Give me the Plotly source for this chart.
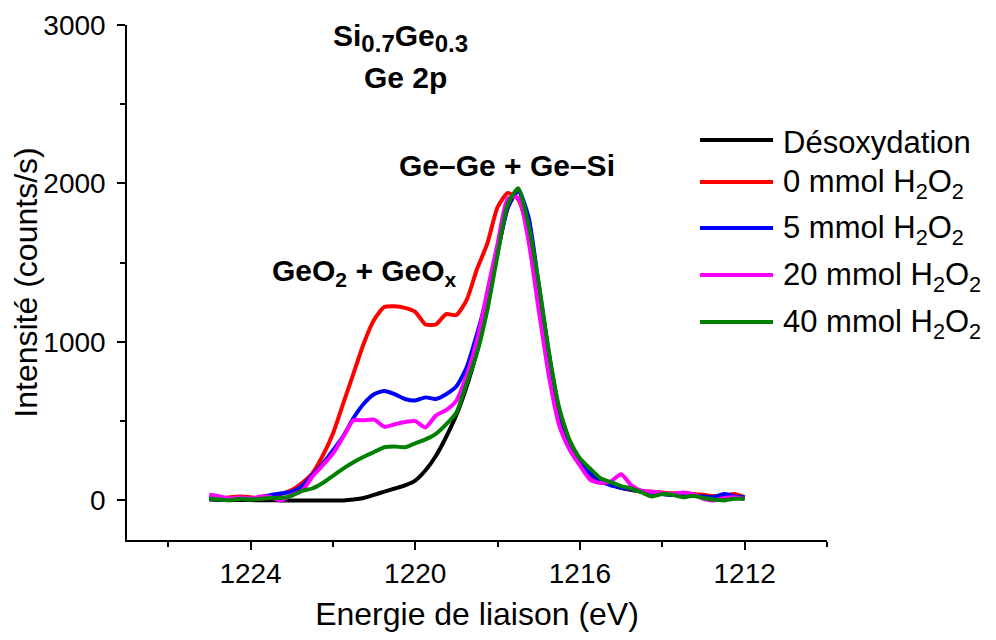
import plotly.graph_objects as go

# ---------------- data ----------------
energy = [1225.00, 1224.75, 1224.50, 1224.25, 1224.00, 1223.75, 1223.50, 1223.25,
          1223.00, 1222.75, 1222.50, 1222.25, 1222.00, 1221.75, 1221.50, 1221.25,
          1221.00, 1220.75, 1220.50, 1220.25, 1220.00, 1219.75, 1219.50, 1219.25,
          1219.00, 1218.75, 1218.50, 1218.25, 1218.00, 1217.75, 1217.50, 1217.25,
          1217.00, 1216.75, 1216.50, 1216.25, 1216.00, 1215.75, 1215.50, 1215.25,
          1215.00, 1214.75, 1214.50, 1214.25, 1214.00, 1213.75, 1213.50, 1213.25,
          1213.00, 1212.75, 1212.50, 1212.25, 1212.00]

desoxydation = [5, 3, 2, 2, 2, 1, 1, 0,
                0, 0, 0, 0, 0, 0, 5, 15,
                35, 55, 75, 95, 125, 190, 280, 400,
                540, 720, 940, 1220, 1570, 1850, 1955, 1720,
                1300, 850, 510, 340, 235, 160, 120, 100,
                80, 65, 55, 45, 40, 35, 35, 30,
                30, 25, 25, 20, 20]

h2o2_0 = [25, 10, 20, 25, 20, 10, 25, 40,
          65, 110, 170, 280, 420, 610, 800, 990,
          1140, 1220, 1225, 1215, 1190, 1110, 1110, 1175,
          1170, 1265, 1460, 1620, 1850, 1940, 1900, 1680,
          1250, 820, 500, 330, 230, 155, 115, 100,
          80, 70, 60, 55, 50, 45, 45, 40,
          35, 25, 30, 40, 20]

h2o2_5 = [10, 5, 10, 15, 10, 20, 35, 45,
          55, 90, 160, 230, 315, 405, 520, 610,
          670, 690, 670, 640, 630, 650, 640, 670,
          720, 840, 1050, 1290, 1570, 1850, 1960, 1790,
          1360, 920, 560, 360, 250, 170, 125, 95,
          80, 70, 60, 45, 40, 35, 30, 30,
          25, 20, 40, 25, 20]

h2o2_20 = [35, 25, 10, 20, 10, 25, 20, 0,
           35, 60, 150, 220, 295, 400, 505, 505,
           510, 465, 480, 495, 500, 460, 535, 570,
           630, 790, 1010, 1320, 1620, 1905, 1910, 1640,
           1200, 780, 470, 320, 220, 130, 110, 120,
           165, 95, 60, 55, 45, 40, 50, 40,
           10, 0, 15, 20, 10]

h2o2_40 = [10, 5, 0, 10, 5, 10, 15, 15,
           30, 60, 75, 110, 155, 200, 240, 275,
           305, 335, 340, 335, 360, 385, 420, 480,
           555, 740, 930, 1200, 1550, 1870, 1970, 1740,
           1370, 930, 580, 380, 265, 200, 140, 115,
           90, 75, 50, 25, 40, 35, 20, 30,
           15, 5, 0, 10, 10]

series_names = ["Désoxydation",
                "0 mmol H<sub>2</sub>O<sub>2</sub>",
                "5 mmol H<sub>2</sub>O<sub>2</sub>",
                "20 mmol H<sub>2</sub>O<sub>2</sub>",
                "40 mmol H<sub>2</sub>O<sub>2</sub>"]
series_values = [desoxydation, h2o2_0, h2o2_5, h2o2_20, h2o2_40]
series_colors = ["#000000", "#ff0000", "#0000ff", "#ff00ff", "#008000"]

x_ticks = [1224, 1220, 1216, 1212]
x_minor = [1226, 1222, 1218, 1214, 1210]
y_ticks = [0, 1000, 2000, 3000]
y_minor = [500, 1500, 2500]

# ---------------- figure ----------------
FONT = "Liberation Sans, Arial, sans-serif"
W, H = 996, 640
OFF = 8  # page body margin
L, T = 127 - OFF, 25 - OFF
PW, PH = 700, 515
R, B = W - L - PW, H - T - PH


def px(xp):  # reference pixel -> paper
    return (xp - 127) / PW


def py(yp):
    return (540 - yp) / PH


fig = go.Figure()
for name, vals, col in zip(series_names, series_values, series_colors):
    fig.add_trace(go.Scatter(x=energy, y=vals, mode="lines", name=name,
                             line=dict(color=col, width=4, shape="spline", smoothing=0.6),
                             showlegend=False))

axis_common = dict(showline=True, linecolor="black", linewidth=1.5, mirror=False,
                   ticks="outside", ticklen=8, tickwidth=1.5, tickcolor="black",
                   showgrid=False, zeroline=False, automargin=False,
                   tickfont=dict(family=FONT, size=28, color="black"))

fig.update_xaxes(range=[1227, 1210], tickvals=x_ticks,
                 minor=dict(tickvals=x_minor, ticks="outside", ticklen=5, tickwidth=1.5,
                            tickcolor="black"),
                 title=dict(text="Energie de liaison (eV)", standoff=14,
                            font=dict(family=FONT, size=32, color="black")),
                 **axis_common)
fig.update_yaxes(range=[-250, 3000], tickvals=y_ticks,
                 ticklabelstandoff=6,
                 minor=dict(tickvals=y_minor, ticks="outside", ticklen=5, tickwidth=1.5,
                            tickcolor="black"),
                 title=dict(text="Intensité (counts/s)", standoff=2,
                            font=dict(family=FONT, size=32, color="black")),
                 **axis_common)

annotations = []
bold = dict(family=FONT, size=30, color="black")
sub = "<sub><span style='font-size:24px'>{}</span></sub>"
annotations.append(dict(text="<b>Si" + sub.format("0.7") + "Ge" + sub.format("0.3") + "</b>",
                        x=px(400), y=py(38),
                        xref="paper", yref="paper", showarrow=False, font=bold,
                        xanchor="center", yanchor="middle"))
annotations.append(dict(text="<b>Ge 2p</b>", x=px(405), y=py(77),
                        xref="paper", yref="paper", showarrow=False, font=bold,
                        xanchor="center", yanchor="middle"))
annotations.append(dict(text="<b>Ge–Ge + Ge–Si</b>", x=px(507), y=py(165),
                        xref="paper", yref="paper", showarrow=False, font=bold,
                        xanchor="center", yanchor="middle"))
annotations.append(dict(text="<b>GeO<sub>2</sub> + GeO<sub>x</sub></b>", x=px(364), y=py(272),
                        xref="paper", yref="paper", showarrow=False, font=bold,
                        xanchor="center", yanchor="middle"))

# manual legend
shapes = []
leg_y = [140, 182, 228, 275, 322]
for name, col, ly in zip(series_names, series_colors, leg_y):
    shapes.append(dict(type="line", xref="paper", yref="paper", x0=px(700), x1=px(773),
                       y0=py(ly), y1=py(ly), line=dict(color=col, width=4)))
    annotations.append(dict(text=name, x=px(781), y=py(ly + 2), xref="paper", yref="paper",
                            showarrow=False, xanchor="left", yanchor="middle",
                            font=dict(family=FONT, size=31, color="black")))

fig.update_layout(width=W, height=H, margin=dict(l=L, r=R, t=T, b=B),
                  plot_bgcolor="white", paper_bgcolor="white",
                  annotations=annotations, shapes=shapes,
                  font=dict(family=FONT, color="black"))

fig.write_html("out.html")
